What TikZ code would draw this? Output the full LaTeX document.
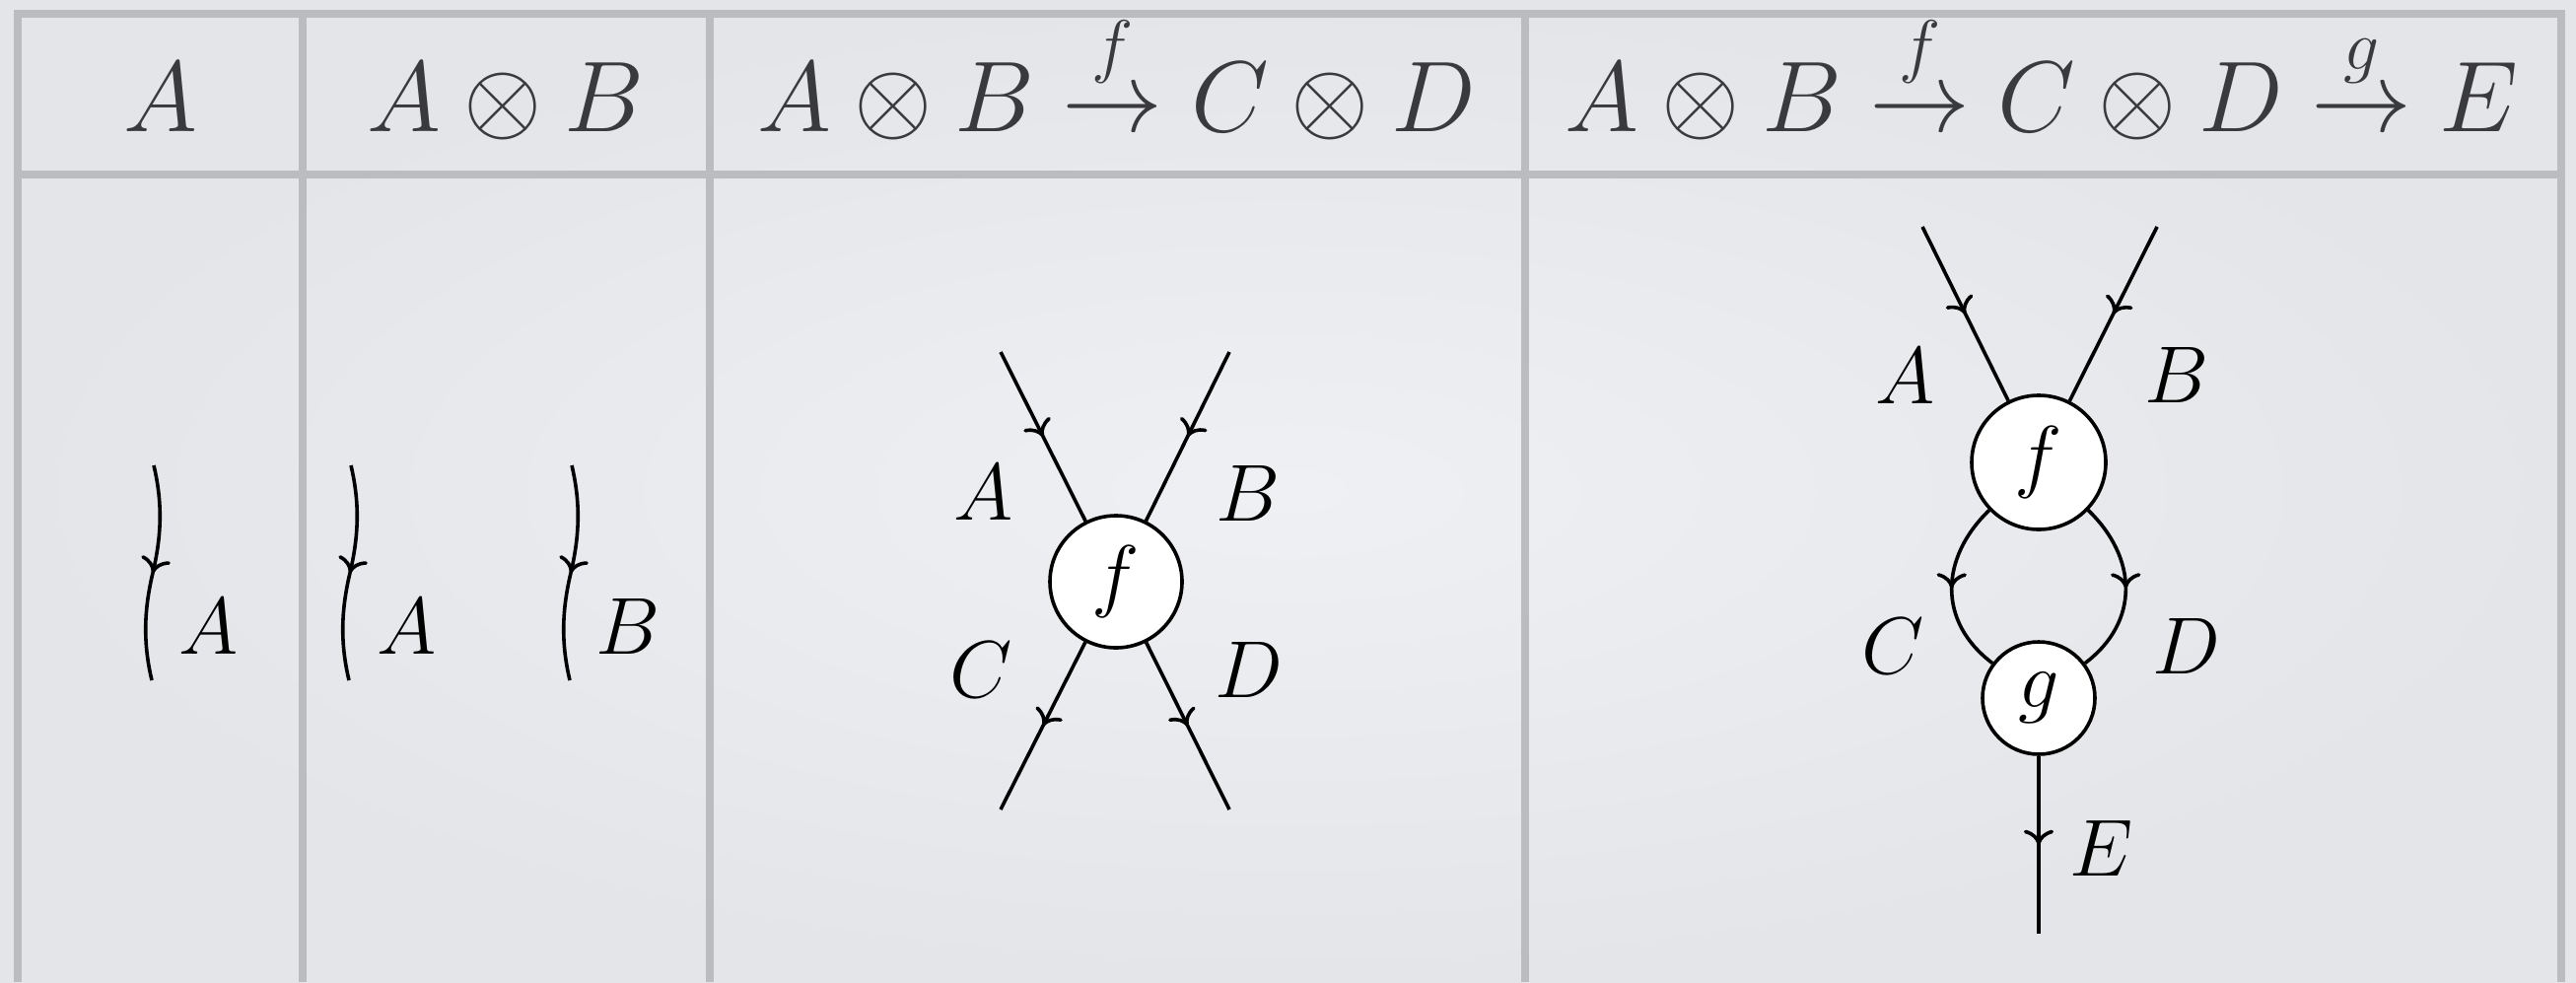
\RequirePackage{fix-cm}
\documentclass[tikz,border=0pt]{standalone}
\usepackage{amsmath}
\usetikzlibrary{arrows.meta,decorations.markings}
\definecolor{bgin}{RGB}{239,240,243}
\definecolor{bgout}{RGB}{227,229,233}
\definecolor{linec}{RGB}{187,188,192}
\definecolor{headc}{RGB}{58,58,60}
\tikzset{
  tabline/.style={draw=linec, line width=2pt},
  head/.style={text=headc, inner sep=0pt, anchor=base, font=\fontsize{25.5}{30}\selectfont},
  lab/.style={inner sep=0pt, font=\fontsize{20.5}{24}\selectfont},
  morph/.style={circle, draw, fill=white, line width=0.9pt, inner sep=0pt, font=\fontsize{20.5}{24}\selectfont},
  wire/.style={line width=0.9pt, postaction={decorate},
    decoration={markings, mark=at position 0.5 with {\arrow{To[length=3.8pt,width=7.6pt]}}}},
}
\begin{document}
\begin{tikzpicture}[x=0.25pt,y=-0.25pt]
\useasboundingbox (0,0) rectangle (2613,996);
\shade[inner color=bgin, outer color=bgout] (0,0) rectangle (2613,996);
% table
\draw[tabline] (14,13.5) -- (2602,13.5);
\draw[tabline] (14,177) -- (2602,177);
\foreach \x in {18,307,720,1547,2598} \draw[tabline] (\x,13.5) -- (\x,996);
% header
\node[head] (h1) at (163,133) {$A$};
\node[head] (h2) at (513,133) {$A\otimes B$};
\node[head] (h3) at (1133,133) {$A\otimes B\stackrel{f}{\to}C\otimes D$};
\node[head] (h4) at (2071,133) {$A\otimes B\stackrel{f}{\to}C\otimes D\stackrel{g}{\to}E$};
% column 1
\coordinate (w1t) at (156,472);
\coordinate (w1m) at (155,581);
\coordinate (w1b) at (154,690);
\draw[wire] (w1t) .. controls +(9,38) and +(9,-38) .. (w1m) .. controls +(-9,38) and +(-9,-38) .. (w1b);
\node[lab] (l1a) at (212,635) {$A$};
% column 2
\coordinate (w2t) at (356,472);
\coordinate (w2m) at (355,581);
\coordinate (w2b) at (354,690);
\draw[wire] (w2t) .. controls +(9,38) and +(9,-38) .. (w2m) .. controls +(-9,38) and +(-9,-38) .. (w2b);
\node[lab] (l2a) at (413,635) {$A$};
\coordinate (w3t) at (580,472);
\coordinate (w3m) at (579,581);
\coordinate (w3b) at (578,690);
\draw[wire] (w3t) .. controls +(9,38) and +(9,-38) .. (w3m) .. controls +(-9,38) and +(-9,-38) .. (w3b);
\node[lab] (l2b) at (637,635) {$B$};
% column 3
\node[morph, minimum size=33.5pt] (f1) at (1132,590) {$f$};
\coordinate (c3a) at (1015,357);
\coordinate (c3b) at (1247,357);
\coordinate (c3c) at (1015,821);
\coordinate (c3d) at (1247,821);
\draw[wire] (c3a) -- (f1);
\draw[wire] (c3b) -- (f1);
\draw[wire] (f1) -- (c3c);
\draw[wire] (f1) -- (c3d);
\node[lab] (l3a) at (998,499) {$A$};
\node[lab] (l3b) at (1266,500) {$B$};
\node[lab] (l3c) at (995,679) {$C$};
\node[lab] (l3d) at (1267,679) {$D$};
% column 4
\node[morph, minimum size=34pt] (f2) at (2068,469) {$f$};
\node[morph, minimum size=28.5pt] (g2) at (2068,708) {$g$};
\coordinate (c4a) at (1950,230);
\coordinate (c4b) at (2188,230);
\coordinate (c4e) at (2068,947);
\draw[wire] (c4a) -- (f2);
\draw[wire] (c4b) -- (f2);
\draw[wire] (f2.-136) to[out=-136, in=143, looseness=1.15] (g2.143);
\draw[wire] (f2.-44) to[out=-44, in=37, looseness=1.15] (g2.37);
\draw[wire] (g2) -- (c4e);
\node[lab] (l4a) at (1933,381) {$A$};
\node[lab] (l4b) at (2208,380) {$B$};
\node[lab] (l4c) at (1920,655) {$C$};
\node[lab] (l4d) at (2218,655) {$D$};
\node[lab] (l4e) at (2132,860) {$E$};
\end{tikzpicture}
\end{document}
